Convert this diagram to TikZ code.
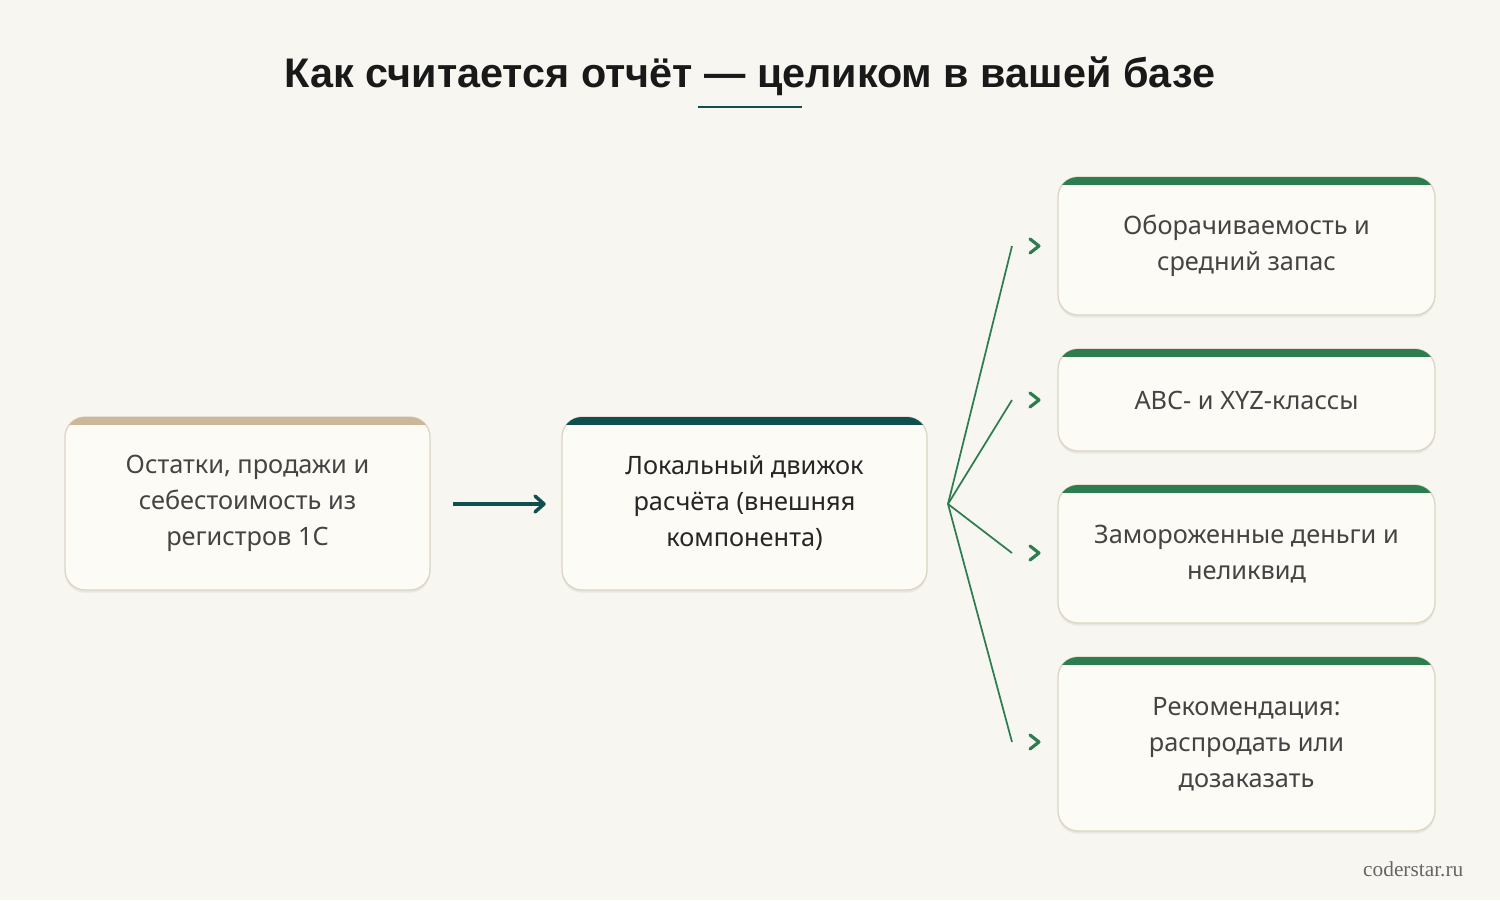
\documentclass[tikz,border=0pt]{standalone}
\usepackage{fontspec}
\setmainfont{Noto Sans}
\newfontfamily\titlefont{Liberation Sans}
\newfontfamily\footfont{Liberation Serif}
\usetikzlibrary{shadows}
\definecolor{bg}{HTML}{F8F6F1}
\definecolor{boxfill}{HTML}{FDFBF5}
\definecolor{boxline}{HTML}{DDD5C5}
\definecolor{beige}{HTML}{CBB89A}
\definecolor{teal}{HTML}{0F4F4F}
\definecolor{grn}{HTML}{2E7D4F}
\definecolor{txt}{HTML}{444444}
\begin{document}
\begin{tikzpicture}[x=0.75pt,y=-0.75pt,
  card/.style={draw=boxline,line width=1pt,fill=boxfill,rounded corners=15pt,
    drop shadow={shadow xshift=0pt,shadow yshift=-2pt,opacity=0.12},
    text=txt,font=\fontsize{19}{27}\selectfont,align=center,inner sep=0pt},
  fan/.style={draw=grn,line width=1.3pt},
  chev/.style={draw=grn,line width=2.4pt,line cap=round,line join=round}]
\fill[bg] (0,0) rectangle (1500,900);
\useasboundingbox (0,0) rectangle (1500,900);
\node[font=\titlefont\bfseries\fontsize{31}{36}\selectfont,text=black!90] (title) at (750,76) {Как считается отчёт — целиком в вашей базе};
\draw[teal,line width=2pt] (698,107) -- (802,107);
\newcommand\card[7]{%
  \path[card] (#2,#3) rectangle (#4,#5);
  \begin{scope}
    \clip[rounded corners=15pt] (#2,#3) rectangle (#4,#5);
    \fill[#6] (#2,#3) rectangle (#4,#3+8);
  \end{scope}
  \node[text=txt,font=\fontsize{19}{27}\selectfont,align=center] (#1) at ({(#2+#4)/2},{(#3+#5)/2}) {#7};
}
\card{src}{65}{417}{430}{590}{beige}{Остатки, продажи и\\себестоимость из\\регистров 1С}
\card{eng}{562}{417}{927}{590}{teal}{\color{black!85}Локальный движок\\\color{black!85}расчёта (внешняя\\\color{black!85}компонента)}
\card{r1}{1058}{177}{1435}{315}{grn}{Оборачиваемость и\\средний запас}
\card{r2}{1058}{349}{1435}{451}{grn}{ABC- и XYZ-классы}
\card{r3}{1058}{485}{1435}{623}{grn}{Замороженные деньги и\\неликвид}
\card{r4}{1058}{657}{1435}{831}{grn}{Рекомендация:\\распродать или\\дозаказать}
\coordinate (a1) at (453,504); \coordinate (a2) at (544,504);
\draw[teal,line width=2.6pt] (a1) -- (a2);
\draw[teal,line width=2.6pt,line cap=round,line join=round] (535,496) -- (544,504) -- (535,512);
\coordinate (hub) at (948,504);
\foreach \y [count=\i] in {246,400,553,742}{
  \coordinate (e\i) at (1012,\y);
  \draw[fan] (hub) -- (e\i);
  \draw[chev] (1030,{\y-7}) -- (1039,\y) -- (1030,{\y+7});
}
\node[font=\footfont\fontsize{16}{18}\selectfont,text=black!60,anchor=east] (foot) at (1468,869) {coderstar.ru};
\end{tikzpicture}
\end{document}
